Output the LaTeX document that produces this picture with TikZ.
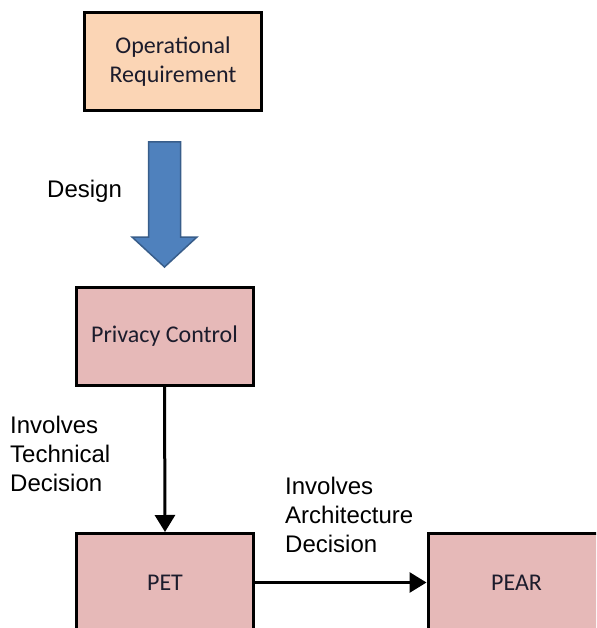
\documentclass[tikz,border=0pt]{standalone}
\usepackage{fontspec}
\setmainfont{Liberation Sans}
\newfontfamily\boxfont{Carlito}
\usetikzlibrary{arrows.meta,calc}

\definecolor{peach}{HTML}{FBD5B5}
\definecolor{rose}{HTML}{E6B9B8}
\definecolor{steel}{HTML}{4F81BD}
\definecolor{steeledge}{HTML}{385D8A}
\definecolor{boxtext}{HTML}{1C1C2C}

\begin{document}
\begin{tikzpicture}[x=1pt,y=-1pt,
  box/.style={draw=black,line width=3pt,minimum width=177pt,minimum height=98pt,
    inner sep=0pt,align=center,text=boxtext,font=\boxfont\fontsize{24}{29}\selectfont},
  lbl/.style={inner sep=0pt,align=left,anchor=west,font=\fontsize{24}{29}\selectfont},
  conn/.style={line width=3pt,-{Triangle[width=20pt,length=17pt]}}]
\useasboundingbox (0,0) rectangle (596,628);
\clip (0,0) rectangle (596,628);

% process boxes
\node[box,fill=peach] (req) at (173,61.5) {Operational\\Requirement};
\node[box,fill=rose] (pc) at (164.5,336.5) {Privacy Control};
\node[box,fill=rose] (pet) at (165,582.5) {PET};
\node[box,fill=rose] (pear) at (516.5,582.5) {PEAR};

% broad block arrow for the design step
\coordinate (dtop) at ($(pc.north |- req.south)+(0,30)$);
\coordinate (dtip) at ($(pc.north)+(0,-19)$);
\draw[fill=steel,draw=steeledge,line width=1.5pt,line join=miter]
  ($(dtop)+(-16,0)$) -- ($(dtop)+(16,0)$) -- ($(dtip)+(16,-30)$) -- ($(dtip)+(32.5,-30)$)
  -- (dtip) -- ($(dtip)+(-32.5,-30)$) -- ($(dtip)+(-16,-30)$) -- cycle;
\node[lbl] (design) at (47,191) {Design};

% decision connectors
\draw[conn] (pc.south) -- (pet.north);
\draw[conn] (pet.east) -- (pear.west);
\node[lbl] (tech) at (10,454) {Involves\\Technical\\Decision};
\node[lbl] (arch) at (285,515) {Involves\\Architecture\\Decision};
\end{tikzpicture}
\end{document}
